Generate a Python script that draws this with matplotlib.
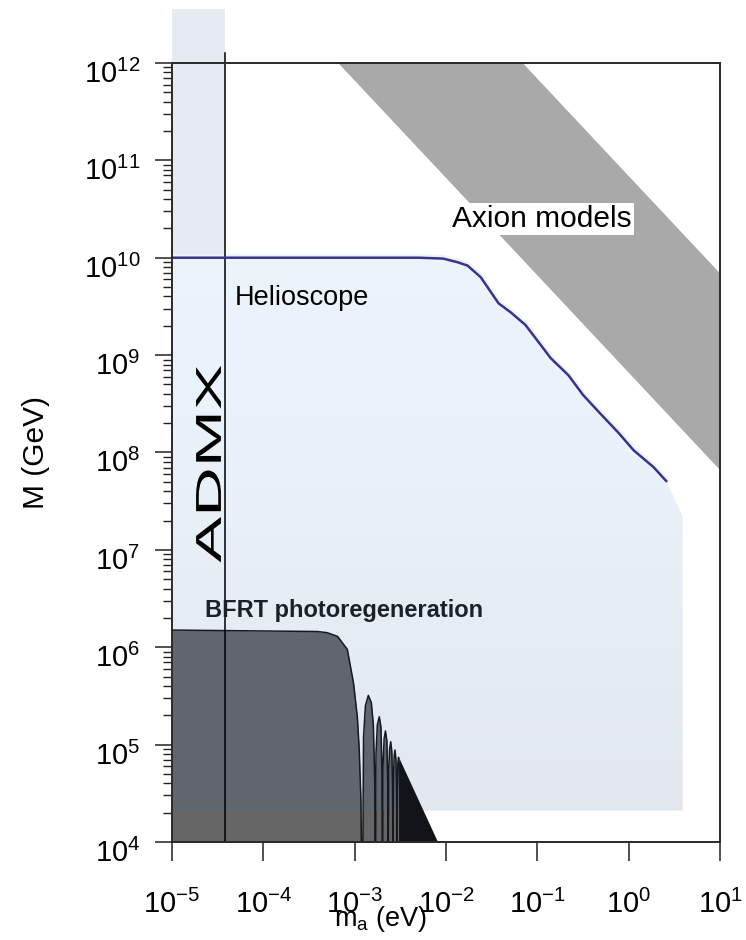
import numpy as np
import matplotlib
matplotlib.use("Agg")
import matplotlib.pyplot as plt
from matplotlib.colors import LinearSegmentedColormap
from matplotlib.patches import Polygon, Rectangle
from matplotlib.patheffects import AbstractPathEffect
from matplotlib.transforms import Affine2D, ScaledTranslation

plt.rcParams["font.family"] = ["Liberation Sans", "DejaVu Sans"]
plt.rcParams["mathtext.fontset"] = "custom"
plt.rcParams["mathtext.rm"] = "Liberation Sans"
plt.rcParams["mathtext.it"] = "Liberation Sans:italic"
plt.rcParams["mathtext.bf"] = "Liberation Sans:bold"

# axes ranges / ticks
x_ticks = [1e-5, 1e-4, 1e-3, 1e-2, 1e-1, 1e0, 1e1]
y_ticks = [1e4, 1e5, 1e6, 1e7, 1e8, 1e9, 1e10, 1e11, 1e12]

# helioscope limit, m_a (eV) vs M (GeV)
helio_m = [1e-5, 5e-3, 9.3e-3, 1.33e-2, 1.72e-2, 2.4e-2, 3.76e-2, 5.1e-2, 7.4e-2,
           0.100, 0.140, 0.219, 0.316, 0.49, 0.76, 1.135, 1.86, 2.57]
helio_M = [1.0e10, 1.0e10, 9.8e9, 9.0e9, 8.3e9, 6.3e9, 3.4e9, 2.75e9, 2.04e9,
           1.41e9, 9.3e8, 6.2e8, 3.9e8, 2.5e8, 1.62e8, 1.05e8, 7.1e7, 5.1e7]
# corners closing the shaded helioscope region
helio_edge_m = [3.9, 3.9, 1e-5]
helio_edge_M = [2.2e7, 2.1e4, 2.1e4]

# BFRT photoregeneration exclusion (outline incl. the first oscillations)
bfrt_m = [1e-5, 3.9e-4, 5.0e-4, 6.5e-4, 8.3e-4, 9.7e-4, 1.07e-3, 1.12e-3, 1.17e-3, 1.21e-3,
          1.25e-3, 1.31e-3, 1.41e-3, 1.52e-3, 1.60e-3, 1.66e-3, 1.68e-3,
          1.71e-3, 1.77e-3, 1.86e-3, 1.94e-3, 1.99e-3, 2.01e-3,
          2.04e-3, 2.10e-3, 2.17e-3, 2.25e-3, 2.30e-3, 2.32e-3,
          2.35e-3, 2.41e-3, 2.48e-3, 2.55e-3, 2.60e-3, 2.62e-3,
          2.65e-3, 2.70e-3, 2.76e-3, 2.83e-3, 2.88e-3, 2.90e-3,
          2.93e-3, 2.97e-3, 3.02e-3, 3.08e-3, 3.12e-3, 3.14e-3]
bfrt_M = [1.5e6, 1.45e6, 1.41e6, 1.29e6, 9.5e5, 4.3e5, 1.9e5, 9.0e4, 2.7e4, 1e3,
          1.2e5, 2.5e5, 3.2e5, 2.7e5, 1.6e5, 4e4, 1e3,
          8e4, 1.6e5, 1.93e5, 1.5e5, 5e4, 1e3,
          6e4, 1.15e5, 1.38e5, 1.1e5, 4e4, 1e3,
          5e4, 9e4, 1.07e5, 8.5e4, 3.5e4, 1e3,
          4e4, 7.5e4, 8.8e4, 7e4, 3e4, 1e3,
          3.5e4, 6.5e4, 7.4e4, 6.2e4, 2.8e4, 1e3]
# envelope of the unresolved fast oscillations
bfrt_dense_m = [3.05e-3, 8.1e-3]
bfrt_dense_M = [7.3e4, 1.0e4]

# ADMX
admx_m = [1e-5, 3.8e-5]
admx_M = [1e4, 3.6e12]
admx_line_M = [1e4, 1.27e12]

# axion model band
axion_m = [6.6e-4, 6.9e-2, 10, 10]
axion_M = [1e12, 1e12, 6.9e9, 6.6e7]


class Stretch(AbstractPathEffect):
    """Scale glyph outlines along the baseline (sx) and across it (sy)."""

    def __init__(self, sx=1.0, sy=1.0):
        super().__init__()
        self._sx, self._sy = sx, sy

    def draw_path(self, renderer, gc, tpath, affine, rgbFace=None):
        renderer.draw_path(gc, tpath, Affine2D().scale(self._sx, self._sy) + affine, rgbFace)


fig = plt.figure(figsize=(7.46, 9.40), dpi=100)
ax = fig.add_axes([0.2306, 0.1043, 0.7346, 0.8287])
ax.set_xscale("log")
ax.set_yscale("log")
ax.set_xlim(1e-5, 10)
ax.set_ylim(1e4, 1e12)

# ADMX band, runs past the top of the frame
ax.add_patch(Rectangle((admx_m[0], admx_M[0]), admx_m[1] - admx_m[0], admx_M[1] - admx_M[0],
                       facecolor="#e6ebf1", edgecolor="none", zorder=1, clip_on=False))

# helioscope region with a soft vertical gradient
heli_poly = Polygon(list(zip(helio_m + helio_edge_m, helio_M + helio_edge_M)),
                    closed=True, transform=ax.transData)
cmap = LinearSegmentedColormap.from_list(
    "heli", [(0.0, "#e2e7ed"), (0.55, "#eaf2fb"), (1.0, "#eef5fd")])
grad = np.linspace(0, 1, 256).reshape(-1, 1)
im = ax.imshow(grad, extent=(0, 1, 0, 1), transform=ax.transAxes, cmap=cmap,
               aspect="auto", origin="lower", zorder=1.5)
im.set_clip_path(heli_poly)
ax.plot(helio_m, helio_M, color="#ecf4fc", lw=5, solid_capstyle="round", zorder=1.6)

# axion models
ax.fill(axion_m, axion_M, color="#a9a9a9", lw=0, zorder=2)

# BFRT
bfrt = ax.fill_between(bfrt_m, 1e3, bfrt_M, color="#61656d", lw=0, zorder=3)
strip = Rectangle((1e-5, 1e3), 10, 2.1e4 - 1e3, facecolor="#666666", edgecolor="none", zorder=3.2)
ax.add_patch(strip)
strip.set_clip_path(bfrt.get_paths()[0], ax.transData)
ax.fill_between(bfrt_dense_m, 1e3, bfrt_dense_M, color="#111418", lw=0, zorder=3.4)
ax.plot(bfrt_m, bfrt_M, color="#15181c", lw=1.1, zorder=3.5)

# limits drawn as lines
ax.plot([admx_m[1], admx_m[1]], admx_line_M, color="black", lw=1.1, zorder=5, clip_on=False)
ax.plot(helio_m, helio_M, color="#3b3388", lw=1.8, zorder=5)

# labels inside the plot
ax.text(4.9e-5, 3.26e9, "Helioscope", fontsize=19.5, ha="left", va="baseline", zorder=6)
ax.text(1.17e-2, 2.05e10, "Axion models", fontsize=21.5, ha="left", va="baseline", zorder=6,
        bbox=dict(facecolor="white", edgecolor="none", pad=1.5))
ax.text(2.3e-5, 2.05e6, "BFRT photoregeneration", fontsize=17, fontweight="bold",
        color="#1c2129", ha="left", va="baseline", zorder=6)
admx = ax.text(2.7e-5, 7.4e6, "ADMX", fontsize=26, rotation=90, ha="center", va="bottom", zorder=6)
admx.set_path_effects([Stretch(1.9, 1.0)])

# axes styling
for sp in ax.spines.values():
    sp.set_linewidth(1.4)
    sp.set_color("#2a2a2a")
    sp.set_zorder(7)

ax.set_xticks(x_ticks)
ax.set_yticks(y_ticks)
ax.tick_params(which="major", direction="out", width=1.1, color="#222222", labelsize=21)
ax.tick_params(axis="x", which="major", length=13.5, pad=21)
ax.tick_params(axis="y", which="major", length=12, pad=11)
ax.tick_params(which="minor", direction="out", length=6.5, width=1.0, color="#222222")

shift = ScaledTranslation(0, -6 / 72, fig.dpi_scale_trans)
for lbl in ax.get_yticklabels():
    lbl.set_transform(lbl.get_transform() + shift)

ax.set_xlabel(r"$\mathregular{m_a}$ (eV)", fontsize=19.5)
ax.xaxis.set_label_coords(0.38, -0.08)
ax.set_ylabel("M (GeV)", fontsize=21.5)
ax.yaxis.set_label_coords(-0.222, 0.5)

fig.savefig("out.png", dpi=100)
